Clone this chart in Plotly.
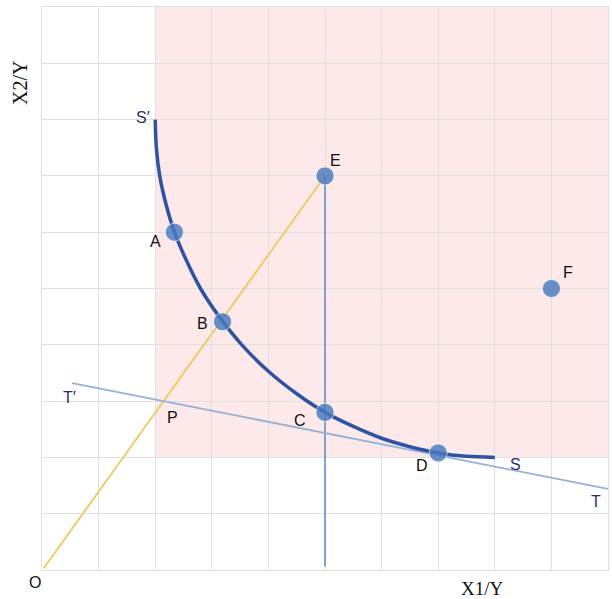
import plotly.graph_objects as go

# Isoquant S'S (X1/Y, X2/Y)
curve_x = [2.0, 2.02, 2.08, 2.19, 2.34, 2.55, 2.80, 3.13, 3.53, 4.0, 4.5, 5.0, 5.5, 6.0, 6.5, 7.0, 7.5, 8.0]
curve_y = [8.0, 7.5, 7.0, 6.5, 6.0, 5.5, 5.0, 4.5, 4.0, 3.53, 3.13, 2.80, 2.55, 2.34, 2.19, 2.08, 2.02, 2.0]

# Labelled points
pt_names = ["A", "B", "C", "D", "E", "F"]
pt_x = [2.34, 3.19, 5.0, 7.0, 5.0, 9.0]
pt_y = [6.0, 4.41, 2.80, 2.08, 7.0, 5.0]

# Ray OE, vertical from E, tangent T'T
ray_x = [0.03, 5.0]
ray_y = [0.03, 7.0]
vert_x = [5.0, 5.0]
vert_y = [0.06, 7.0]
tan_x = [0.53, 10.0]
tan_y = [3.32, 1.44]

# Shaded region (X1/Y >= 2, X2/Y >= 2)
region_x = [2, 10]
region_y = [2, 10]

# Text labels: (text, x, y, colour-key) in data units
label_text = ["S\u2032", "E", "A", "B", "F", "T\u2032", "P", "C", "D", "S", "T", "O"]
label_x = [1.78, 5.19, 2.01, 2.84, 9.29, 0.49, 2.30, 4.56, 6.71, 8.36, 9.79, -0.12]
label_y = [8.03, 7.28, 5.84, 4.37, 5.29, 3.07, 2.70, 2.65, 1.85, 1.87, 1.21, -0.23]
label_kind = ["n", "k", "k", "k", "k", "n", "k", "k", "k", "n", "n", "k"]

X_MAX = 10.0
Y_MAX = 10.0

fig = go.Figure()

fig.add_shape(type="rect", x0=region_x[0], x1=region_x[1], y0=region_y[0], y1=region_y[1],
              fillcolor="#fde8ea", line=dict(width=0), layer="below")

fig.add_trace(go.Scatter(x=ray_x, y=ray_y, mode="lines",
                         line=dict(color="#efc95e", width=1.8), hoverinfo="skip"))
fig.add_trace(go.Scatter(x=vert_x, y=vert_y, mode="lines",
                         line=dict(color="#6f9ccb", width=1.8), hoverinfo="skip"))
fig.add_trace(go.Scatter(x=tan_x, y=tan_y, mode="lines",
                         line=dict(color="#93b2d6", width=1.8), hoverinfo="skip"))
fig.add_trace(go.Scatter(x=curve_x, y=curve_y, mode="lines",
                         line=dict(color="#2d53a3", width=3.5, shape="spline", smoothing=0.8),
                         hoverinfo="skip"))
fig.add_trace(go.Scatter(x=pt_x, y=pt_y, mode="markers", text=pt_names,
                         marker=dict(size=18, color="rgba(72,122,190,0.82)",
                                     line=dict(color="rgba(255,255,255,0.6)", width=1))))

for t, x, y, k in zip(label_text, label_x, label_y, label_kind):
    fig.add_annotation(x=x / X_MAX, y=y / Y_MAX, xref="paper", yref="paper",
                       xanchor="center", yanchor="middle",
                       text=t, showarrow=False,
                       font=dict(family="Liberation Sans, Arial", size=16,
                                 color="#2e2a78" if k == "n" else "#111111"))

fig.add_annotation(x=7.79 / X_MAX, y=-0.33 / Y_MAX, xref="paper", yref="paper",
                   xanchor="center", yanchor="middle",
                   text="X1/Y", showarrow=False,
                   font=dict(family="Liberation Serif, Times New Roman", size=19, color="#111111"))
fig.add_annotation(x=-0.39 / X_MAX, y=8.65 / Y_MAX, xref="paper", yref="paper",
                   xanchor="center", yanchor="middle",
                   text="X2/Y", showarrow=False, textangle=-90,
                   font=dict(family="Liberation Serif, Times New Roman", size=20, color="#111111"))

axis_common = dict(range=[0, 10], dtick=1, tick0=0, showgrid=True, gridcolor="#e0e0e0",
                   gridwidth=1.3, zeroline=False, showticklabels=False, ticks="",
                   showline=True, linecolor="#e0e0e0", linewidth=1.3, mirror=True)

fig.update_layout(
    width=612, height=599,
    margin=dict(l=42, r=4, t=7, b=29),
    paper_bgcolor="white", plot_bgcolor="rgba(0,0,0,0)",
    showlegend=False,
    xaxis=axis_common,
    yaxis=axis_common,
)

fig.write_html("out.html", config={"displayModeBar": False},
               post_script="document.body.style.margin='0';document.body.style.overflow='hidden';")
